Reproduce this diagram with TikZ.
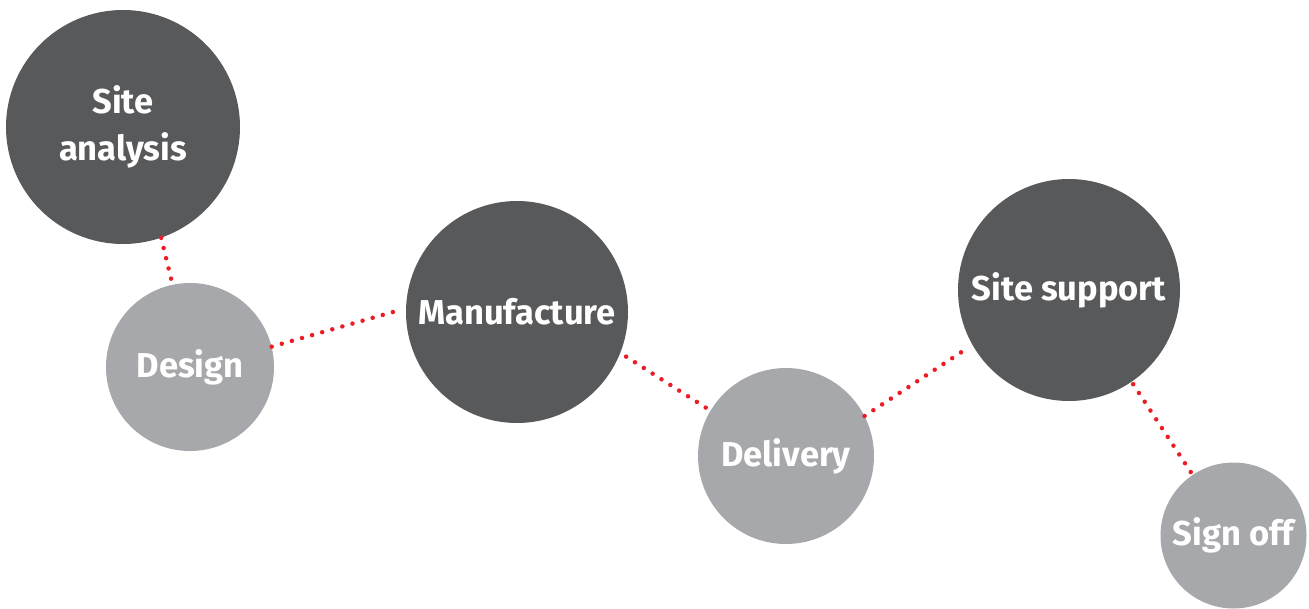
\documentclass[tikz,border=0pt]{standalone}
\usepackage{fontspec}
\setmainfont{Fira Sans}
\definecolor{darkc}{HTML}{58595B}
\definecolor{lightc}{HTML}{A7A8AB}
\definecolor{redc}{HTML}{EC1C24}
\begin{document}
\begin{tikzpicture}[x=1pt,y=-1pt,
  bubble/.style={circle,inner sep=0pt,text=white,font=\fontsize{34.5}{47}\selectfont\bfseries,align=center},
  darkb/.style={bubble,fill=darkc},
  lightb/.style={bubble,fill=lightc},
  dotline/.style={draw=redc,line width=4.5pt,line cap=round,dash pattern=on 0pt off 10.5pt}]
\useasboundingbox (0,0) rectangle (1309,608);
\node[darkb,minimum size=234pt] (sa) at (123,127) {Site\\analysis};
\node[lightb,minimum size=168pt] (de) at (190,367) {Design};
\node[darkb,minimum size=222pt] (ma) at (517,312) {Manufacture};
\node[lightb,minimum size=176pt] (dl) at (786,456) {Delivery};
\node[darkb,minimum size=222pt] (ss) at (1069,290) {Site support};
\node[lightb,minimum size=146pt] (so) at (1233.5,535.5) {Sign off};
\draw[dotline] (sa.-71) -- (de.102);
\draw[dotline] (de.14) -- ([xshift=-6pt]ma.179);
\draw[dotline] ([shift={(6pt,-3pt)}]ma.-22) -- (dl.149);
\draw[dotline] (dl.27) -- ([shift={(-6pt,-3pt)}]ss.-150);
\draw[dotline] ([shift={(2pt,-2pt)}]ss.-56) -- (so.124);
\end{tikzpicture}
\end{document}
